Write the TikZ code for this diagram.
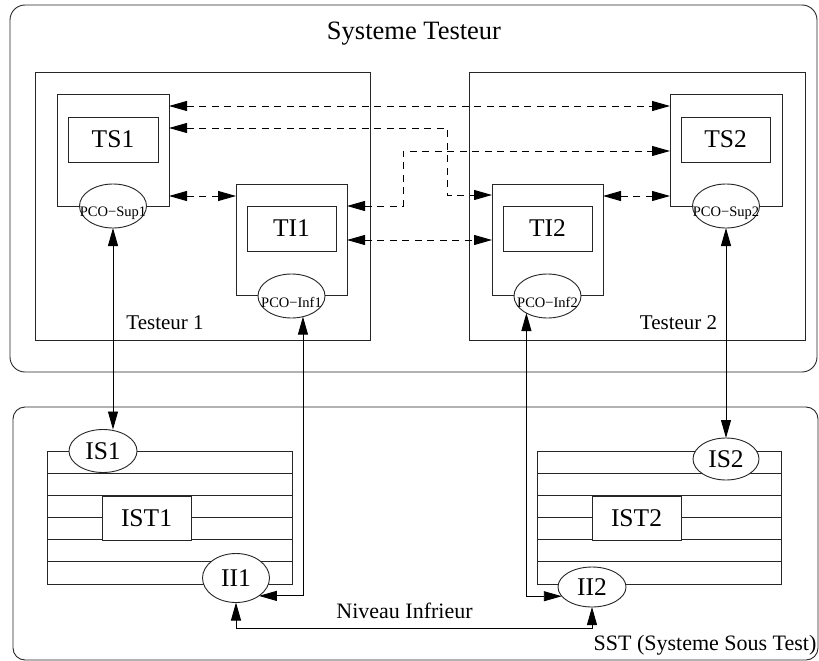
\documentclass[tikz,border=0pt]{standalone}
\usepackage{fontspec}
\setmainfont{Liberation Serif}
\usetikzlibrary{arrows.meta,shapes.geometric,calc}

\begin{document}
\begin{tikzpicture}[x=1pt,y=-1pt,
  every node/.style={inner sep=0pt,outer sep=0pt},
  frame/.style={draw=black!85,line width=0.9pt},
  panel/.style={frame,rectangle,fill=white},
  port/.style={frame,ellipse,fill=white},
  pcolabel/.style={font=\fontsize{14.5}{16}\selectfont,yshift=-7pt},
  bigtext/.style={font=\fontsize{25.5}{28}\selectfont},
  link/.style={draw=black,line width=0.9pt},
  dlink/.style={link,dash pattern=on 7pt off 5.5pt},
  biarrow/.style={arrows={Triangle[length=18pt,width=10pt]-Triangle[length=18pt,width=10pt]}}
]
\useasboundingbox (0,0) rectangle (819,661);

% the two systems
\node[frame,rounded corners=15pt,minimum width=807pt,minimum height=367pt] (sys) at (413.5,188.5) {};
\node[frame,rounded corners=12pt,minimum width=805pt,minimum height=253pt] (sst) at (415.5,533.5) {};
\node[anchor=base,font=\fontsize{26.5}{30}\selectfont] (title) at (414,40) {Systeme Testeur};

% testers
\node[panel,minimum width=335pt,minimum height=268pt] (tst1) at (202.5,206) {};
\node[panel,minimum width=336pt,minimum height=268pt] (tst2) at (637,206) {};
\node[anchor=base,font=\fontsize{21}{24}\selectfont] (tst1lbl) at (165,329) {Testeur 1};
\node[anchor=base,font=\fontsize{21}{24}\selectfont] (tst2lbl) at (678.5,329) {Testeur 2};

% upper and lower test components
\node[panel,minimum width=112pt,minimum height=112pt] (ts1) at (113,150) {};
\node[panel,bigtext,minimum width=90pt,minimum height=45pt] (ts1in) at (113,139.5) {TS1};
\node[panel,minimum width=111pt,minimum height=111pt] (ti1) at (291.5,239.5) {};
\node[panel,bigtext,minimum width=89pt,minimum height=45pt] (ti1in) at (291.5,228.5) {TI1};
\node[panel,minimum width=112pt,minimum height=112pt] (ts2) at (726,150) {};
\node[panel,bigtext,minimum width=89pt,minimum height=45pt] (ts2in) at (725.5,139.5) {TS2};
\node[panel,minimum width=111pt,minimum height=111pt] (ti2) at (547.5,239.5) {};
\node[panel,bigtext,minimum width=89pt,minimum height=45pt] (ti2in) at (547.5,228.5) {TI2};

% points of control and observation
\node[port,minimum width=67pt,minimum height=44pt,label={[pcolabel]center:PCO−Sup1}] (pcosup1) at (113,206) {};
\node[port,minimum width=67pt,minimum height=44pt,label={[pcolabel,yshift=1pt]center:PCO−Inf1}] (pcoinf1) at (291.5,296) {};
\node[port,minimum width=67pt,minimum height=44pt,label={[pcolabel]center:PCO−Sup2}] (pcosup2) at (726,206) {};
\node[port,minimum width=67pt,minimum height=44pt,label={[pcolabel,yshift=1pt]center:PCO−Inf2}] (pcoinf2) at (547.5,296) {};

% implementations under test, drawn as layered stacks
\node[frame,minimum width=245pt,minimum height=133pt] (stack1) at (169.5,517.5) {};
\node[frame,minimum width=244pt,minimum height=133pt] (stack2) at (659,517.5) {};
\foreach \s in {stack1,stack2}{
  \foreach \k in {1,...,5}{
    \draw[frame] ($(\s.north west)!\k/6!(\s.south west)$) -- ($(\s.north east)!\k/6!(\s.south east)$);
  }
}
\node[panel,bigtext,minimum width=89pt,minimum height=44pt] (ist1) at (146.5,518) {IST1};
\node[panel,bigtext,minimum width=89pt,minimum height=44pt] (ist2) at (636.5,518) {IST2};
\node[port,bigtext,minimum width=68pt,minimum height=43pt] (is1) at (103,451) {IS1};
\node[port,bigtext,minimum width=66pt,minimum height=42pt] (is2) at (726,459) {IS2};
\node[port,bigtext,minimum width=67pt,minimum height=49pt] (ii1) at (236,578) {II1};
\node[port,bigtext,minimum width=68pt,minimum height=40pt] (ii2) at (592,587) {II2};

\node[anchor=base,font=\fontsize{22}{24}\selectfont] (niveau) at (404.5,618) {Niveau Infrieur};
\node[anchor=base,font=\fontsize{22}{24}\selectfont] (sstlbl) at (705,650) {SST (Systeme Sous Test)};

% routing columns and the lower bus level
\coordinate (jogA) at (447,0);
\coordinate (jogB) at (403,0);
\coordinate (lvl) at (0,628);
\coordinate (ti1a) at ([yshift=-22pt]ti1.north east);
\coordinate (ti2a) at ([yshift=-11pt]ti2.north west);
\coordinate (ts2a) at ([yshift=-57pt]ts2.north west);

% exchanges between test components (dashed)
\draw[dlink,biarrow] ([yshift=-12pt]ts1.north east) -- ([yshift=-12pt]ts2.north west);
\draw[dlink,biarrow] ([yshift=-34pt]ts1.north east) -| (jogA |- ti2a) -- (ti2a);
\draw[dlink,biarrow] (ti1a) -- (jogB |- ti1a) |- (ts2a);
\draw[dlink,biarrow] ([yshift=-56pt]ti1.north east) -- ([yshift=-56pt]ti2.north west);
\draw[dlink,biarrow] ([yshift=10pt]ts1.south east) -- ([yshift=-12pt]ti1.north west);
\draw[dlink,biarrow] ([yshift=-12pt]ti2.north east) -- ([yshift=10pt]ts2.south west);

% links to the system under test
\draw[link,biarrow] (pcosup1.south) -- (pcosup1.south |- is1.north);
\draw[link,biarrow] (pcosup2.south) -- (pcosup2.south |- is2.north);
\draw[link,biarrow] (pcoinf1.-61.6) |- (ii1.-38.4);
\draw[link,biarrow] (pcoinf2.-141.8) |- (ii2.-163.5);
\draw[link,biarrow] (ii1.south) -- (ii1.south |- lvl) -| (ii2.south);
\end{tikzpicture}
\end{document}
